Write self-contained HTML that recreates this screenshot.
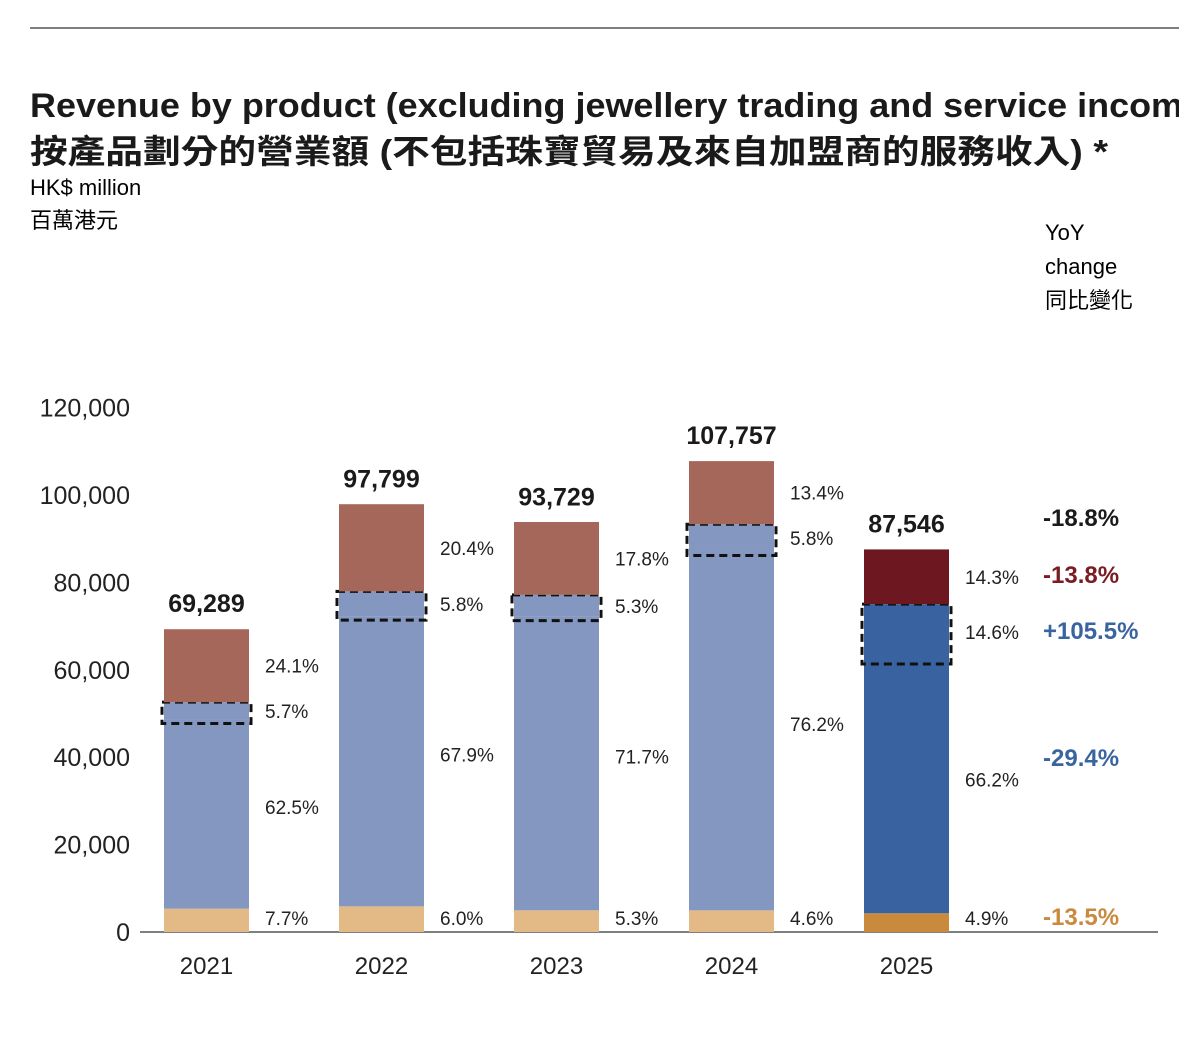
<!DOCTYPE html>
<html><head><meta charset="utf-8"><style>
body{margin:0;width:1179px;height:1042px;overflow:hidden;background:#fff;font-family:"Liberation Sans","Noto Sans CJK TC",sans-serif;color:#1a1a1a}
svg{position:absolute;left:0;top:0}
</style></head><body>
<svg id="c" width="1179" height="1042" xmlns="http://www.w3.org/2000/svg">
<line x1="30" y1="28" x2="1179" y2="28" stroke="#555" stroke-width="1.5"/>
<text x="30" y="117" font-size="34" font-weight="bold" fill="#1a1a1a" textLength="1185" lengthAdjust="spacingAndGlyphs">Revenue by product (excluding jewellery trading and service income)</text>
<text x="30" y="163" font-size="33" font-weight="bold" fill="#1a1a1a" textLength="1078" lengthAdjust="spacingAndGlyphs" font-family="Liberation Sans,Noto Sans CJK TC,sans-serif">按產品劃分的營業額 (不包括珠寶貿易及來自加盟商的服務收入) *</text>
<text x="30" y="195" font-size="22">HK$ million</text>
<text x="30" y="228" font-size="22">百萬港元</text>
<text font-size="22"><tspan x="1045" y="240">YoY</tspan><tspan x="1045" y="274">change</tspan><tspan x="1045" y="308">同比變化</tspan></text>
<g id="axis"></g><g id="bars"></g>
</svg>
<script>
const years=['2021','2022','2023','2024','2025'];
const totals=[69289,97799,93729,107757,87546];
const totalLabels=['69,289','97,799','93,729','107,757','87,546'];
const goldPct=[7.7,6.0,5.3,4.6,4.9];
const bluePct=[62.5,67.9,71.7,76.2,66.2];
const dashPct=[5.7,5.8,5.3,5.8,14.6];
const redPct=[24.1,20.4,17.8,13.4,14.3];
const yTicks=[0,20000,40000,60000,80000,100000,120000];
const yoyLabels=['-18.8%','-13.8%','+105.5%','-29.4%','-13.5%'];
const NS='http://www.w3.org/2000/svg';
const y=v=>932-v*87.4/20000;
const x=i=>164+i*175;
const W=85;
function mk(t,a,p){const e=document.createElementNS(NS,t);for(const k in a)e.setAttribute(k,a[k]);p.appendChild(e);return e;}
const ax=document.getElementById('axis'),bg=document.getElementById('bars');
yTicks.forEach(v=>{const t=mk('text',{x:130,y:y(v)+9,'font-size':25,'text-anchor':'end',fill:'#222'},ax);t.textContent=v.toLocaleString('en-US');

});
const base=mk('line',{x1:140,y1:932,x2:1158,y2:932,stroke:'#555','stroke-width':1.5},ax);


years.forEach((yr,i)=>{
 const last=i===4;
 const cols=last?['#c98a3e','#3963a0','#3963a0','#6d1720']:['#e3b985','#8497c0','#8497c0','#a5675a'];
 const pcts=[goldPct[i],bluePct[i],dashPct[i],redPct[i]];
 const names=['gold','blue','dashed','red'];
 let acc=0;const T=totals[i];
 pcts.forEach((p,k)=>{
  const v0=acc,v1=acc+T*p/100;acc=v1;
  const r=mk('rect',{x:x(i),y:y(v1),width:W,height:y(v0)-y(v1),fill:cols[k]},bg);
  
  
  if(k===2){const d=mk('rect',{x:x(i)-2,y:y(v1),width:W+4,height:y(v0)-y(v1)+4,fill:'none',stroke:'#111','stroke-width':3,'stroke-dasharray':'8,5'},bg);
   
   }
  const ly=k===0?925:(y(v0)+y(v1))/2+(k===1?0:7);
  const l=mk('text',{x:x(i)+W+16,y:ly,'font-size':19,fill:'#222'},bg);l.textContent=p.toFixed(1)+'%';
  
  
 });
 const tl=mk('text',{x:x(i)+W/2,y:y(T)-17,'font-size':25,'font-weight':'bold','text-anchor':'middle',fill:'#1a1a1a'},bg);tl.textContent=totalLabels[i];
 
 
 const xl=mk('text',{x:x(i)+W/2,y:974,'font-size':24,'text-anchor':'middle',fill:'#222'},bg);xl.textContent=yr;
 
 
});
const yoyY=[526,583,639,766,925];
const yoyC=['#1a1a1a','#7a1c24','#3a64a0','#3a64a0','#c98a3e'];
yoyLabels.forEach((s,k)=>{const t=mk('text',{x:1043,y:yoyY[k],'font-size':24,'font-weight':'bold',fill:yoyC[k]},bg);t.textContent=s;

});
</script>
</body></html>
